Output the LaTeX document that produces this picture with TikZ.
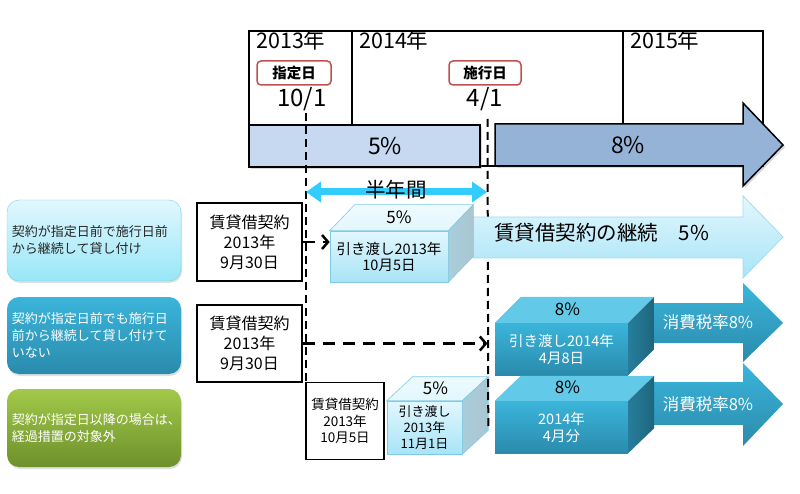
\documentclass[tikz,border=0pt]{standalone}
\usepackage{fontspec}
\setmainfont{Noto Sans CJK JP}
\usetikzlibrary{arrows.meta,calc,shadows}

\definecolor{barlite}{HTML}{C6D9F1}
\definecolor{barblue}{HTML}{95B3D7}
\definecolor{datered}{HTML}{C0504D}
\definecolor{halfcyan}{HTML}{33CCFF}
\definecolor{liteA}{HTML}{E2F7FE}
\definecolor{liteB}{HTML}{A8E4F6}
\definecolor{liteedge}{HTML}{7FCBE6}
\definecolor{liteside}{HTML}{A9C6D1}
\definecolor{tealA}{HTML}{3BB5DB}
\definecolor{tealB}{HTML}{2A8BAC}
\definecolor{tealtop}{HTML}{62CAE8}
\definecolor{tealside}{HTML}{267E9C}
\definecolor{greenA}{HTML}{A2C94A}
\definecolor{greenB}{HTML}{6E902B}

\tikzset{
  frame/.style={line width=1.5pt},
  yearlabel/.style={anchor=base west, inner sep=0pt, font=\fontsize{21.5}{24}\selectfont},
  daylabel/.style={anchor=base, inner sep=0pt, font=\fontsize{24}{26}\selectfont},
  datebox/.style={draw=datered, line width=1.5pt, rounded corners=4pt, fill=white,
    minimum height=24pt, inner sep=0pt, font=\fontsize{14.5}{16}\selectfont\bfseries},
  ratebar/.style={draw=black, line width=1.5pt, inner sep=0pt,
    drop shadow={shadow xshift=2pt, shadow yshift=-2pt, opacity=0.3}},
  ratetext/.style={inner sep=0pt, font=\fontsize{23}{24}\selectfont},
  dashline/.style={dash pattern=on 8pt off 5pt, line width=2pt},
  dasharrow/.style={dash pattern=on 12pt off 8pt, line width=2.5pt,
    -{Straight Barb[length=6pt, width=14pt, line width=2.5pt]}},
  halfyear/.style={halfcyan, line width=7pt,
    {Triangle[length=15pt, width=20pt]}-{Triangle[length=15pt, width=20pt]}},
  casebox/.style={rounded corners=12pt, minimum width=174pt, text width=164pt, align=left,
    inner sep=0pt, font=\fontsize{13}{17}\selectfont,
    drop shadow={shadow xshift=1pt, shadow yshift=-2pt, opacity=0.25}},
  contract/.style={draw=black, line width=1.5pt, fill=white, align=center, inner sep=0pt,
    font=\fontsize{16}{20}\selectfont},
  litefront/.style={draw=liteedge, line width=0.6pt, top color=liteA, bottom color=liteB,
    align=center, inner sep=0pt, font=\fontsize{14.5}{16}\selectfont},
  litetop/.style={draw=liteedge, line width=0.6pt, top color=liteA!60!white, bottom color=liteA},
  liteside/.style={draw=liteedge, line width=0.6pt, left color=liteside!75!liteB, right color=liteside},
  tealfront/.style={top color=tealA, bottom color=tealB, text=white,
    align=center, inner sep=0pt, font=\fontsize{14.5}{17}\selectfont},
  tealtop/.style={fill=tealtop},
  tealside/.style={left color=tealside, right color=tealside!80!black},
  toptext/.style={inner sep=0pt, font=\fontsize{17}{18}\selectfont},
  litearrow/.style={draw=liteedge!70!white, line width=0.8pt, top color=liteA, bottom color=liteB},
  tealarrow/.style={top color=tealA, bottom color=tealB},
  arrowtext/.style={inner sep=0pt, font=\fontsize{16.5}{18}\selectfont}
}

% top and side faces of a box node
\newcommand{\cubefaces}[5]{%
  \path[#4] (#1.north west) -- ([shift={(#2,-#3)}]#1.north west)
    -- ([shift={(#2,-#3)}]#1.north east) -- (#1.north east) -- cycle;
  \path[#5] (#1.north east) -- ([shift={(#2,-#3)}]#1.north east)
    -- ([shift={(#2,-#3)}]#1.south east) -- (#1.south east) -- cycle;
}

\begin{document}
\begin{tikzpicture}[x=1pt, y=-1pt]
\useasboundingbox (0,0) rectangle (800,494);

%% TIMELINE
\draw[frame] (249,31) rectangle (763,166);
\draw[frame] (352,31) -- (352,166);
\draw[frame] (623,31) -- (623,166);
\node[yearlabel] (year_13) at (256,49) {2013年};
\node[yearlabel] (year_14) at (359,49) {2014年};
\node[yearlabel] (year_15) at (630,49) {2015年};

\node[datebox, minimum width=74pt] (designated) at (294,73) {指定日};
\node[datebox, minimum width=72pt] (effective) at (485,73) {施行日};
\node[daylabel] (day_a) at (302,107) {10/1};
\node[daylabel] (day_b) at (485,107) {4/1};

\node[ratebar, fill=barlite, minimum width=231pt, minimum height=42pt] (bar_five) at (364.5,146) {};
\node[ratetext] at (385,146) {5\%};
\path[draw=black, line width=1.5pt, fill=barblue,
  drop shadow={shadow xshift=2pt, shadow yshift=-2pt, opacity=0.3}]
  (495,124) -- (743,124) -- (743,103) -- (783,145) -- (743,186) -- (743,166) -- (495,166) -- cycle;
\node[ratetext] (bar_eight) at (628,145) {8\%};

%% CASES
\node[casebox, draw=liteedge, top color=liteA, bottom color=liteB!90!cyan, text=black!85]
  (case_a) at (94,240.5) [minimum height=81pt] {契約が指定日前で施行日前\\から継続して貸し付け};
\node[casebox, top color=tealA, bottom color=tealB, text=white]
  (case_b) at (94,335.5) [minimum height=77pt] {契約が指定日前でも施行日\\前から継続して貸し付けて\\いない};
\node[casebox, top color=greenA, bottom color=greenB, text=white]
  (case_c) at (94,428) [minimum height=78pt] {契約が指定日以降の場合は、\\経過措置の対象外};

\node[contract, minimum width=105pt, minimum height=78pt] (contract_a) at (249.5,242) {賃貸借契約\\2013年\\9月30日};
\node[contract, minimum width=105pt, minimum height=77pt] (contract_b) at (249.5,343.5) {賃貸借契約\\2013年\\9月30日};
\node[contract, minimum width=78pt, minimum height=77pt, font=\fontsize{13.5}{16.5}\selectfont]
  (contract_c) at (345,421) {賃貸借契約\\2013年\\10月5日};

% handover 2013/11/1
\node[litefront, minimum width=75pt, minimum height=53pt, font=\fontsize{13}{16}\selectfont]
  (hand_c) at (424.5,427.5) {引き渡し\\2013年\\11月1日};
\cubefaces{hand_c}{26}{24}{litetop}{liteside}
\node[toptext] at ([shift={(11,-12)}]hand_c.north) {5\%};

%% DATE LINES
\coordinate (line_a) at (306,113);
\coordinate (line_b) at (487.5,119);
\draw[dashline] (line_a) -- (line_a |- contract_c.north);
\draw[dashline] (line_b) -- ([shift={(26,-24)}]hand_c.south east);
\draw[halfyear] (306,192) -- (487,192);
\node[inner sep=0pt, font=\fontsize{20.5}{22}\selectfont] (half_year) at (396,190) {半年間};

%% CONTINUED CONTRACT
\path[litearrow] (473,217) -- (743,217) -- (743,196) -- (783,237) -- (743,278) -- (743,258) -- (473,258) -- cycle;
\node[inner sep=0pt, anchor=west, font=\fontsize{20.5}{22}\selectfont] (cont_text) at (494,233) {賃貸借契約の継続　5\%};

\node[litefront, minimum width=118pt, minimum height=51pt] (hand_a) at (389,256.5) {引き渡し2013年\\10月5日};
\cubefaces{hand_a}{25}{26}{litetop}{liteside}
\node[toptext] at ([shift={(10,-13)}]hand_a.north) {5\%};

%% TAX 8%
\path[tealarrow] (654,303) -- (743,303) -- (743,283) -- (783,323) -- (743,362) -- (743,343) -- (654,343) -- cycle;
\node[arrowtext, text=white] (tax_a) at (708,322) {消費税率8\%};
\node[tealfront, minimum width=133pt, minimum height=52pt] (hand_b) at (561.5,349) {引き渡し2014年\\4月8日};
\cubefaces{hand_b}{26}{26}{tealtop}{tealside}
\node[toptext] at ([shift={(6,-14)}]hand_b.north) {8\%};

\path[tealarrow] (654,382) -- (743,382) -- (743,363) -- (783,404) -- (743,446) -- (743,425) -- (654,425) -- cycle;
\node[arrowtext, text=white] (tax_b) at (708,404) {消費税率8\%};
\node[tealfront, minimum width=133pt, minimum height=52pt] (month_b) at (561.5,427) {2014年\\4月分};
\cubefaces{month_b}{26}{25}{tealtop}{tealside}
\node[toptext] at ([shift={(6,-14)}]month_b.north) {8\%};

%% CONNECTORS
\draw[dasharrow] (contract_a.east) -- (contract_a.east -| hand_a.west);
\draw[dasharrow] (contract_b.east) -- (contract_b.east -| line_b);

\end{tikzpicture}
\end{document}
